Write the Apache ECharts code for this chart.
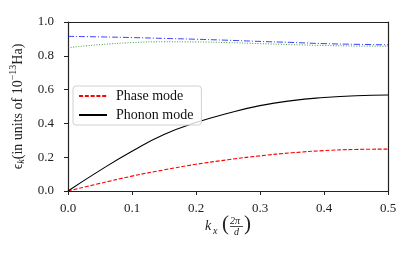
<!DOCTYPE html>
<html><head><meta charset="utf-8">
<script src="https://cdn.jsdelivr.net/npm/echarts@6/dist/echarts.min.js"></script>
<style>html,body{margin:0;padding:0;background:#fff}#c{width:415px;height:256px}</style>
</head><body><div id="c"></div>
<script>
const kx = [0, 0.05, 0.1, 0.15, 0.2, 0.25, 0.3, 0.35, 0.4, 0.45, 0.5];
const phase = [0, 0.045, 0.088, 0.125, 0.158, 0.185, 0.208, 0.226, 0.239, 0.246, 0.248];
const phonon = [0, 0.122, 0.235, 0.335, 0.405, 0.46, 0.505, 0.535, 0.553, 0.564, 0.568];
const upper1 = [0.915, 0.912, 0.908, 0.903, 0.898, 0.892, 0.885, 0.879, 0.872, 0.868, 0.865];
const upper2 = [0.848, 0.866, 0.878, 0.883, 0.882, 0.878, 0.872, 0.866, 0.861, 0.858, 0.857];

const FONT = 'Liberation Serif';
const pair = (ys) => kx.map((x, i) => [x, ys[i]]);
const chart = echarts.init(document.getElementById('c'), null, {renderer: 'canvas'});
const axisLine = {show: true, onZero: false, lineStyle: {color: '#222', width: 1.2}};
chart.setOption({
  animation: false,
  backgroundColor: '#fff',
  grid: {left: 68, right: 27, top: 22, bottom: 65},
  legend: {
    data: ['Phase mode', 'Phonon mode'],
    left: 73, top: 86, orient: 'vertical',
    itemWidth: 28, itemHeight: 12, itemGap: 5,
    padding: [3, 8, 3, 5],
    borderColor: '#d0d0d0', borderWidth: 1, borderRadius: 3,
    backgroundColor: 'rgba(255,255,255,0.8)',
    itemStyle: {opacity: 0, borderWidth: 0},
    textStyle: {fontFamily: FONT, fontSize: 14, color: '#111', padding: [0, 0, 0, 4]}
  },
  xAxis: [{
    type: 'value', min: 0, max: 0.5, interval: 0.1,
    axisLine: axisLine,
    axisTick: {show: true, inside: false, length: 4, lineStyle: {color: '#222', width: 1}},
    axisLabel: {margin: 11, fontFamily: FONT, fontSize: 13, color: '#222', formatter: v => v.toFixed(1)},
    splitLine: {show: false}
  }, {
    type: 'value', position: 'top', min: 0, max: 0.5,
    axisLine: axisLine, axisTick: {show: false}, axisLabel: {show: false}, splitLine: {show: false}
  }],
  yAxis: [{
    type: 'value', min: 0, max: 1, interval: 0.2,
    axisLine: axisLine,
    axisTick: {show: true, length: 4, lineStyle: {color: '#222', width: 1}},
    axisLabel: {margin: 14, fontFamily: FONT, fontSize: 13, color: '#222', formatter: v => v.toFixed(1)},
    splitLine: {show: false},
    name: '{m|\u03F5}{sub|k}{m|(in units of 10}{sup|\u221213}{m|Ha)}',
    nameLocation: 'middle', nameGap: 33, nameRotate: 90,
    nameTextStyle: {
      fontFamily: FONT, fontSize: 14, color: '#222',
      rich: {
        m: {fontFamily: FONT, fontSize: 14, lineHeight: 18, verticalAlign: 'middle', color: '#222'},
        sub: {fontFamily: FONT, fontSize: 10, fontStyle: 'italic', lineHeight: 18, verticalAlign: 'bottom', color: '#222'},
        sup: {fontFamily: FONT, fontSize: 10, lineHeight: 18, verticalAlign: 'top', color: '#222'}
      }
    }
  }, {
    type: 'value', position: 'right', min: 0, max: 1,
    axisLine: axisLine, axisTick: {show: false}, axisLabel: {show: false}, splitLine: {show: false}
  }],
  graphic: [
    {type: 'text', left: 205, top: 219, style: {text: 'k', font: 'italic 14px "Liberation Serif"', fill: '#222'}},
    {type: 'text', left: 213, top: 226, style: {text: 'x', font: 'italic 10px "Liberation Serif"', fill: '#222'}},
    {type: 'text', left: 222, top: 214, style: {text: '(', font: '21px "Liberation Serif"', fill: '#222'}},
    {type: 'text', left: 230, top: 216, style: {text: '2\u03C0', font: 'italic 10px "Liberation Serif"', fill: '#222'}},
    {type: 'line', shape: {x1: 230, y1: 226.5, x2: 243, y2: 226.5}, style: {stroke: '#222', lineWidth: 0.8}},
    {type: 'text', left: 234, top: 227, style: {text: 'd', font: 'italic 10px "Liberation Serif"', fill: '#222'}},
    {type: 'text', left: 244, top: 214, style: {text: ')', font: '21px "Liberation Serif"', fill: '#222'}}
  ],
  series: [
    {name: 'Phase mode', type: 'line', data: pair(phase), smooth: true, symbol: 'none',
      lineStyle: {color: '#ff0000', width: 1.1, type: [4, 1.8]}, itemStyle: {color: '#ff0000'}},
    {name: 'Phonon mode', type: 'line', data: pair(phonon), smooth: true, symbol: 'none',
      lineStyle: {color: '#000', width: 1.1}, itemStyle: {color: '#000'}},
    {name: 'upper1', type: 'line', data: pair(upper1), smooth: true, symbol: 'none',
      lineStyle: {color: '#0000ff', width: 0.9, type: [6, 2, 1, 2], opacity: 0.85}},
    {name: 'upper2', type: 'line', data: pair(upper2), smooth: true, symbol: 'none',
      lineStyle: {color: '#008000', width: 0.9, type: [1, 1.6], opacity: 0.85}}
  ]
});
</script></body></html>
